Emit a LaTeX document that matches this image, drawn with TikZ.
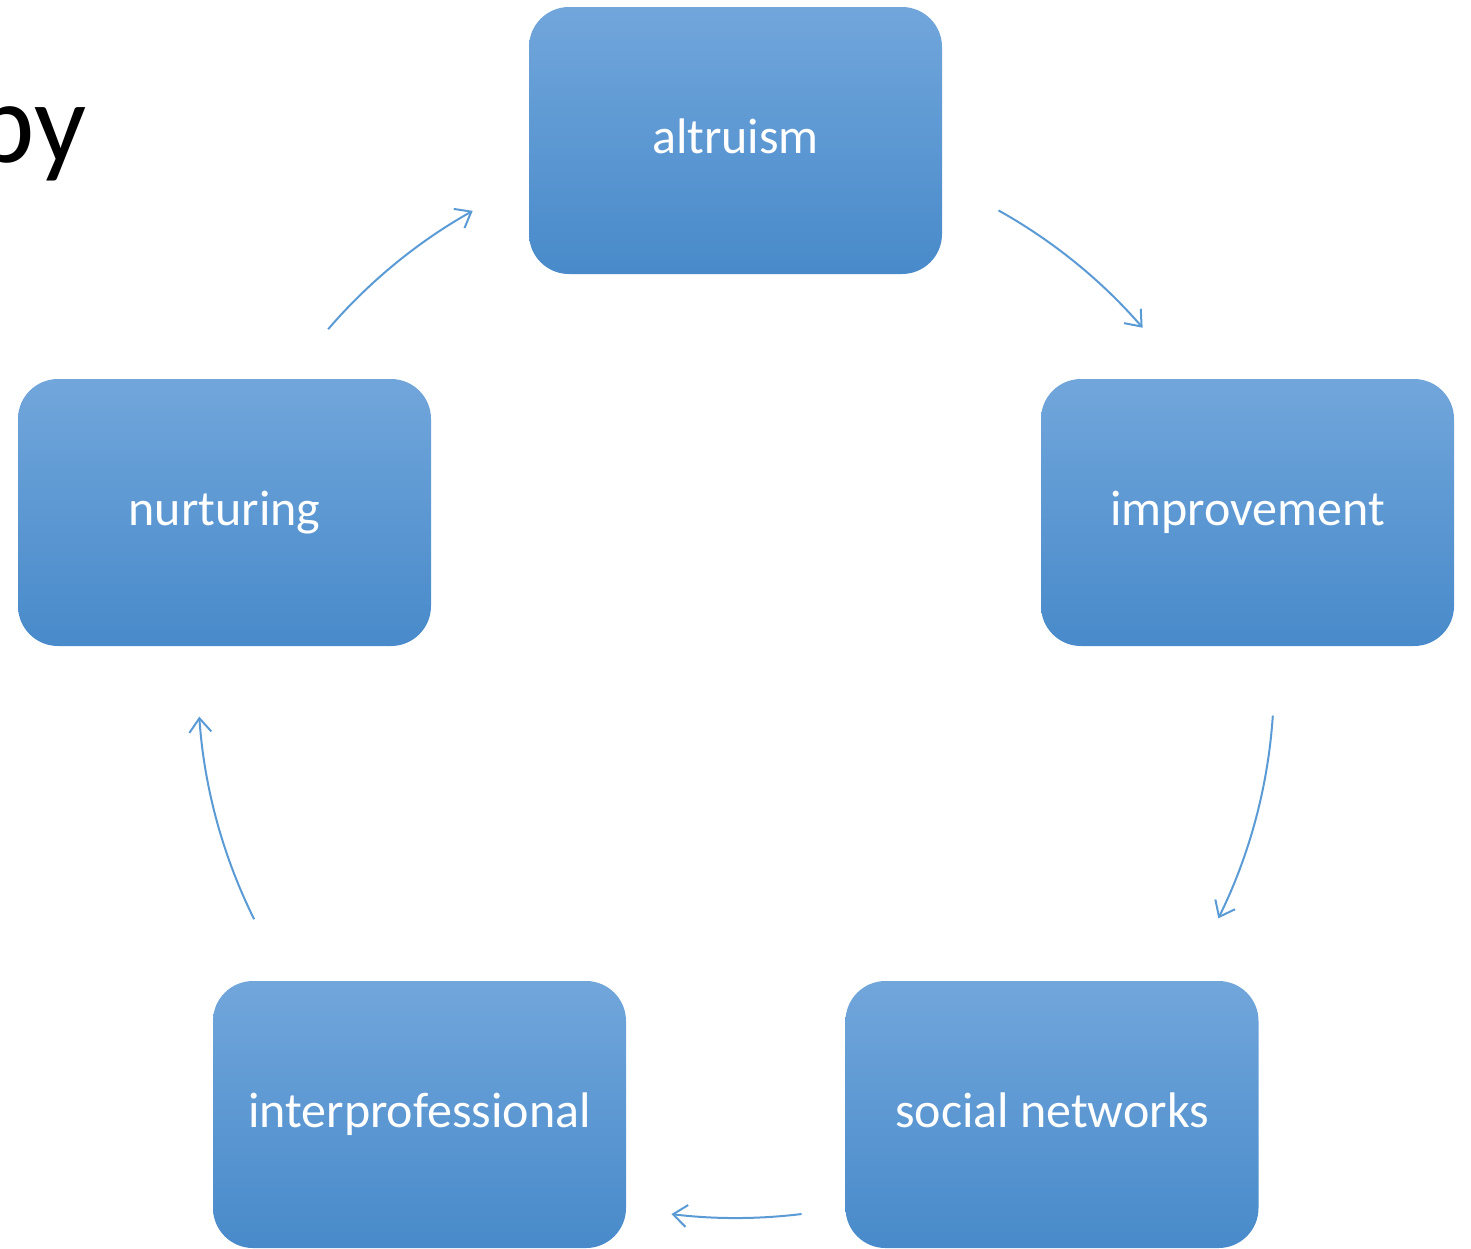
\documentclass[tikz,border=0pt]{standalone}
\usepackage{fontspec}
\setmainfont{Carlito}
\usetikzlibrary{arrows.meta}
\definecolor{boxtop}{RGB}{113,166,219}
\definecolor{boxmid}{RGB}{91,157,221}
\definecolor{boxbot}{RGB}{72,138,202}
\definecolor{arrowblue}{RGB}{91,155,213}
\tikzset{
  cyclebox/.style={rounded corners=40pt, minimum width=413pt, minimum height=267pt,
    inner sep=0pt, top color=boxtop, middle color=boxmid, bottom color=boxbot, shading angle=0,
    text=white, font=\fontsize{50}{60}\selectfont, text height=25pt, text depth=0pt},
  cyclearrow/.style={draw=arrowblue, line width=2pt,
    -{Straight Barb[length=14pt,width=22pt,line width=2pt]}}
}
\begin{document}
\begin{tikzpicture}[x=1pt,y=-1pt]
\useasboundingbox (0,0) rectangle (1471,1248);
\node[anchor=base east, inner sep=0pt, font=\fontsize{115}{130}\selectfont] (title) at (87,162) {py};
\node[cyclebox] (altruism) at (735.5,140.5) {altruism};
\node[cyclebox] (improvement) at (1247.5,512.5) {improvement};
\node[cyclebox] (nurturing) at (224.5,512.5) {nurturing};
\node[cyclebox] (inter) at (419.5,1114.5) {interprofessional};
\node[cyclebox] (social) at (1052,1114.5) {social networks};
\begin{scope}[shift={(736,680)}]
\coordinate (a1) at (-139.3:538);
\coordinate (a2) at (-60.8:538);
\coordinate (a3) at (3.8:538);
\coordinate (a4) at (83.0:538);
\coordinate (a5) at (153.6:538);
\end{scope}
\draw[cyclearrow] (a1) arc[start angle=-139.3, end angle=-119.3, radius=538];
\draw[cyclearrow] (a2) arc[start angle=-60.8, end angle=-40.9, radius=538];
\draw[cyclearrow] (a3) arc[start angle=3.8, end angle=26.3, radius=538];
\draw[cyclearrow] (a4) arc[start angle=83.0, end angle=96.9, radius=538];
\draw[cyclearrow] (a5) arc[start angle=153.6, end angle=176.1, radius=538];
\end{tikzpicture}
\end{document}
